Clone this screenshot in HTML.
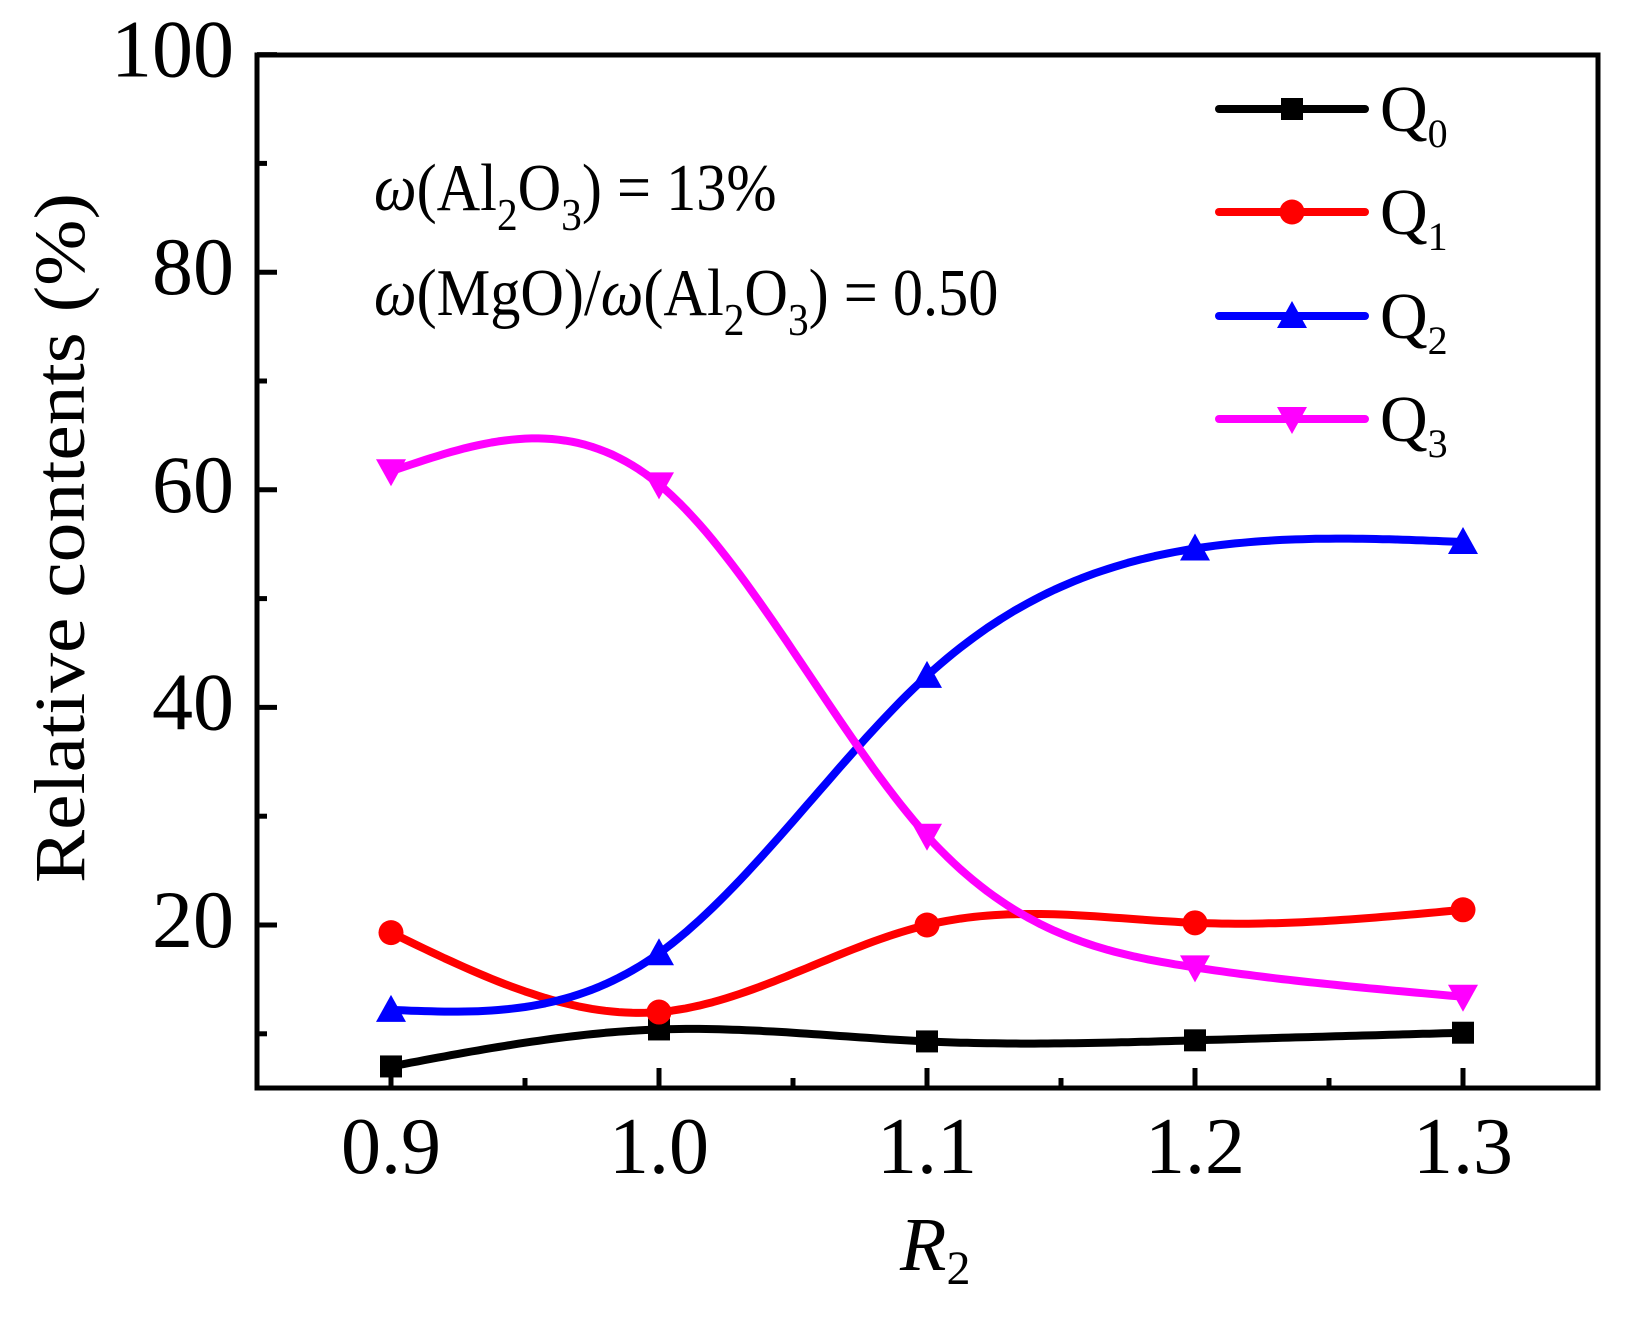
<!DOCTYPE html>
<html><head><meta charset="utf-8"><style>
html,body{margin:0;padding:0;background:#fff}
svg{display:block}
text{font-family:"Liberation Serif","DejaVu Serif",serif;fill:#000}
</style></head><body>
<svg id="chart" width="1629" height="1318" viewBox="0 0 1629 1318" xmlns="http://www.w3.org/2000/svg">
<g id="plot"></g>
<g id="axes"></g>
<text transform="translate(84,538) rotate(-90)" text-anchor="middle" font-size="72" textLength="690" lengthAdjust="spacingAndGlyphs">Relative contents (%)</text>
<text x="900" y="1270" font-size="76" font-style="italic">R<tspan font-size="48" font-style="normal" dy="14">2</tspan></text>
<g transform="translate(374,0) scale(0.9,1)">
<text x="0" y="210" font-size="67"><tspan font-style="italic">ω</tspan>(Al<tspan font-size="46" dy="20">2</tspan><tspan dy="-20">O</tspan><tspan font-size="46" dy="20">3</tspan><tspan dy="-20">) = 13%</tspan></text>
<text x="0" y="315" font-size="67"><tspan font-style="italic">ω</tspan>(MgO)/<tspan font-style="italic">ω</tspan>(Al<tspan font-size="46" dy="20">2</tspan><tspan dy="-20">O</tspan><tspan font-size="46" dy="20">3</tspan><tspan dy="-20">) = 0.50</tspan></text>
</g>
<g id="legend"></g>
</svg>
<script>
const categories = [0.9, 1.0, 1.1, 1.2, 1.3];
const q0 = [7.0, 10.4, 9.3, 9.4, 10.1];
const q1 = [19.3, 12.0, 20.0, 20.2, 21.4];
const q2 = [12.2, 17.4, 42.9, 54.6, 55.2];
const q3 = [61.7, 60.5, 28.2, 16.1, 13.4];
const seriesNames = ['Q0', 'Q1', 'Q2', 'Q3'];
const xTicks = ['0.9', '1.0', '1.1', '1.2', '1.3'];
const yTicks = ['20', '40', '60', '80', '100'];

const NS = 'http://www.w3.org/2000/svg';
const L = 257, R = 1598, T = 55, B = 1088;
function xs(v){ return 391 + (v - 0.9) / 0.1 * 268; }
function ys(v){ return 1142.6 - v * 10.88; }
function mk(tag, attrs, parent){
  const e = document.createElementNS(NS, tag);
  for (const k in attrs) e.setAttribute(k, attrs[k]);
  parent.appendChild(e);
  return e;
}
const plot = document.getElementById('plot');
const axes = document.getElementById('axes');
const legend = document.getElementById('legend');

function spline(xv, yv){
  const n = xv.length, h = [], a = [], l = [1], mu = [0], z = [0], c = new Array(n).fill(0), b = [], d = [];
  for (let i = 0; i < n - 1; i++) h.push(xv[i+1] - xv[i]);
  for (let i = 1; i < n - 1; i++) a[i] = 3/h[i]*(yv[i+1]-yv[i]) - 3/h[i-1]*(yv[i]-yv[i-1]);
  for (let i = 1; i < n - 1; i++){ l[i] = 2*(xv[i+1]-xv[i-1]) - h[i-1]*mu[i-1]; mu[i] = h[i]/l[i]; z[i] = (a[i]-h[i-1]*z[i-1])/l[i]; }
  for (let j = n - 2; j >= 0; j--){ c[j] = (j > 0 ? z[j] - mu[j]*c[j+1] : 0); b[j] = (yv[j+1]-yv[j])/h[j] - h[j]*(c[j+1]+2*c[j])/3; d[j] = (c[j+1]-c[j])/(3*h[j]); }
  let pts = [];
  for (let j = 0; j < n - 1; j++){
    for (let s = 0; s <= 40; s++){
      const t = h[j] * s / 40;
      pts.push([xv[j] + t, yv[j] + b[j]*t + c[j]*t*t + d[j]*t*t*t]);
    }
  }
  return pts;
}

const colors = ['#000000', '#ff0000', '#0000ff', '#ff00ff'];
const shapes = ['square', 'circle', 'up', 'down'];
const allSeries = [q0, q1, q2, q3];

function marker(shape, cx, cy, color, parent){
  let e;
  if (shape === 'square') e = mk('rect', {x: cx-11, y: cy-11, width: 22, height: 22, fill: color}, parent);
  else if (shape === 'circle') e = mk('circle', {cx: cx, cy: cy, r: 12.5, fill: color}, parent);
  else if (shape === 'up') e = mk('polygon', {points: `${cx},${cy-15} ${cx+15},${cy+12} ${cx-15},${cy+12}`, fill: color}, parent);
  else e = mk('polygon', {points: `${cx-15},${cy-12} ${cx+15},${cy-12} ${cx},${cy+15}`, fill: color}, parent);
  return e;
}

allSeries.forEach((vals, si) => {
  const g = mk('g', {}, plot);
  
  
  const pts = spline(categories, vals);
  const p = mk('path', {d: pts.map((q, i) => (i ? 'L' : 'M') + xs(q[0]).toFixed(1) + ',' + ys(q[1]).toFixed(1)).join(''), fill: 'none', stroke: colors[si], 'stroke-width': 8, 'stroke-linejoin': 'round'}, g);
  
  
  vals.forEach((v, i) => {
    const m = marker(shapes[si], xs(categories[i]), ys(v), colors[si], g);
    
    
  });
});

const frame = mk('rect', {x: L, y: T, width: R - L, height: B - T, fill: 'none', stroke: '#000', 'stroke-width': 5}, axes);



xTicks.forEach((t, i) => {
  const x = xs(categories[i]);
  const tk = mk('line', {x1: x, x2: x, y1: B, y2: B - 20, stroke: '#000', 'stroke-width': 5}, axes);
  
  
  if (i < xTicks.length - 1){
    const xm = xs(categories[i] + 0.05);
    const mn = mk('line', {x1: xm, x2: xm, y1: B, y2: B - 10, stroke: '#000', 'stroke-width': 5}, axes);
    
    
  }
  const lb = mk('text', {x: x, y: 1173, 'font-size': 80, 'text-anchor': 'middle'}, axes);
  lb.textContent = t;
  
  
});
[10, 30, 50, 70, 90].forEach(v => {
  const y = ys(v);
  const mn = mk('line', {x1: L, x2: L + 10, y1: y, y2: y, stroke: '#000', 'stroke-width': 5}, axes);
  
  
});
yTicks.forEach(t => {
  const y = ys(+t);
  const tk = mk('line', {x1: L, x2: L + 20, y1: y, y2: y, stroke: '#000', 'stroke-width': 5}, axes);
  
  
  const lb = mk('text', {x: 234, y: y + 22, 'font-size': 82, 'text-anchor': 'end'}, axes);
  lb.textContent = t;
  
  
});

const legY = [109, 212, 316, 419];
seriesNames.forEach((n, i) => {
  const g = mk('g', {}, legend);
  
  
  mk('line', {x1: 1219, x2: 1365, y1: legY[i], y2: legY[i], stroke: colors[i], 'stroke-width': 8, 'stroke-linecap': 'round'}, g);
  marker(shapes[i], 1292, legY[i], colors[i], g);
  const tx = mk('text', {x: 1380, y: legY[i] + 22, 'font-size': 66}, g);
  tx.textContent = 'Q';
  const sub = mk('tspan', {'font-size': 40, dy: 16}, tx);
  sub.textContent = n.slice(1);
});
</script>
</body></html>
